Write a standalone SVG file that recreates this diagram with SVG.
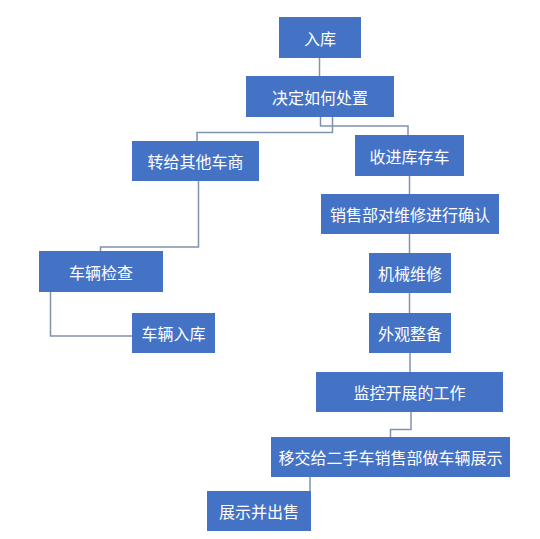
<svg xmlns="http://www.w3.org/2000/svg" width="540" height="539" viewBox="0 0 540 539">
<style>
.box{fill:#4472C4;}
.lbl{fill:#ffffff;font-family:"Microsoft YaHei","Noto Sans CJK SC",sans-serif;font-size:16px;text-anchor:middle;dominant-baseline:central;}
.cn{fill:none;stroke:#8093AE;stroke-width:1.5;}
</style>
<rect width="540" height="539" fill="#ffffff"/>
<g id="connectors">
<path class="cn" d="M319.5,58 V76"/>
<path class="cn" d="M320.5,117 V126 H408 V135"/>
<path class="cn" d="M332.5,117 V132.5 H197 V141"/>
<path class="cn" d="M198.5,181 V247 H100.5 V251"/>
<path class="cn" d="M50.5,292 V336 H132"/>
<path class="cn" d="M409.5,176 V194"/>
<path class="cn" d="M409.5,234 V253"/>
<path class="cn" d="M409.5,293 V313"/>
<path class="cn" d="M410,353 V372"/>
<path class="cn" d="M411,412 V429.5 H390.5 V437"/>
<path class="cn" d="M310,477 V491"/>
</g>
<g id="n1"><rect class="box" x="279" y="17" width="82" height="41"/><text class="lbl" x="320" y="37.5">入库</text></g>
<g id="n2"><rect class="box" x="246" y="76" width="148" height="41"/><text class="lbl" x="320" y="96.5">决定如何处置</text></g>
<g id="n3"><rect class="box" x="132" y="141" width="127" height="40"/><text class="lbl" x="195.5" y="161">转给其他车商</text></g>
<g id="n4"><rect class="box" x="355" y="135" width="109" height="41"/><text class="lbl" x="409.5" y="155.5">收进库存车</text></g>
<g id="n5"><rect class="box" x="39" y="251" width="124" height="41"/><text class="lbl" x="101" y="271.5">车辆检查</text></g>
<g id="n6"><rect class="box" x="132" y="313" width="83" height="40"/><text class="lbl" x="173.5" y="333">车辆入库</text></g>
<g id="n7"><rect class="box" x="321" y="194" width="178" height="40"/><text class="lbl" x="410" y="214">销售部对维修进行确认</text></g>
<g id="n8"><rect class="box" x="369" y="253" width="82" height="40"/><text class="lbl" x="410" y="273">机械维修</text></g>
<g id="n9"><rect class="box" x="369" y="313" width="82" height="40"/><text class="lbl" x="410" y="333">外观整备</text></g>
<g id="n10"><rect class="box" x="316" y="372" width="187" height="40"/><text class="lbl" x="409.5" y="392">监控开展的工作</text></g>
<g id="n11"><rect class="box" x="271" y="437" width="239" height="40"/><text class="lbl" x="390.5" y="457">移交给二手车销售部做车辆展示</text></g>
<g id="n12"><rect class="box" x="207" y="491" width="104" height="40"/><text class="lbl" x="259" y="511">展示并出售</text></g>
</svg>
